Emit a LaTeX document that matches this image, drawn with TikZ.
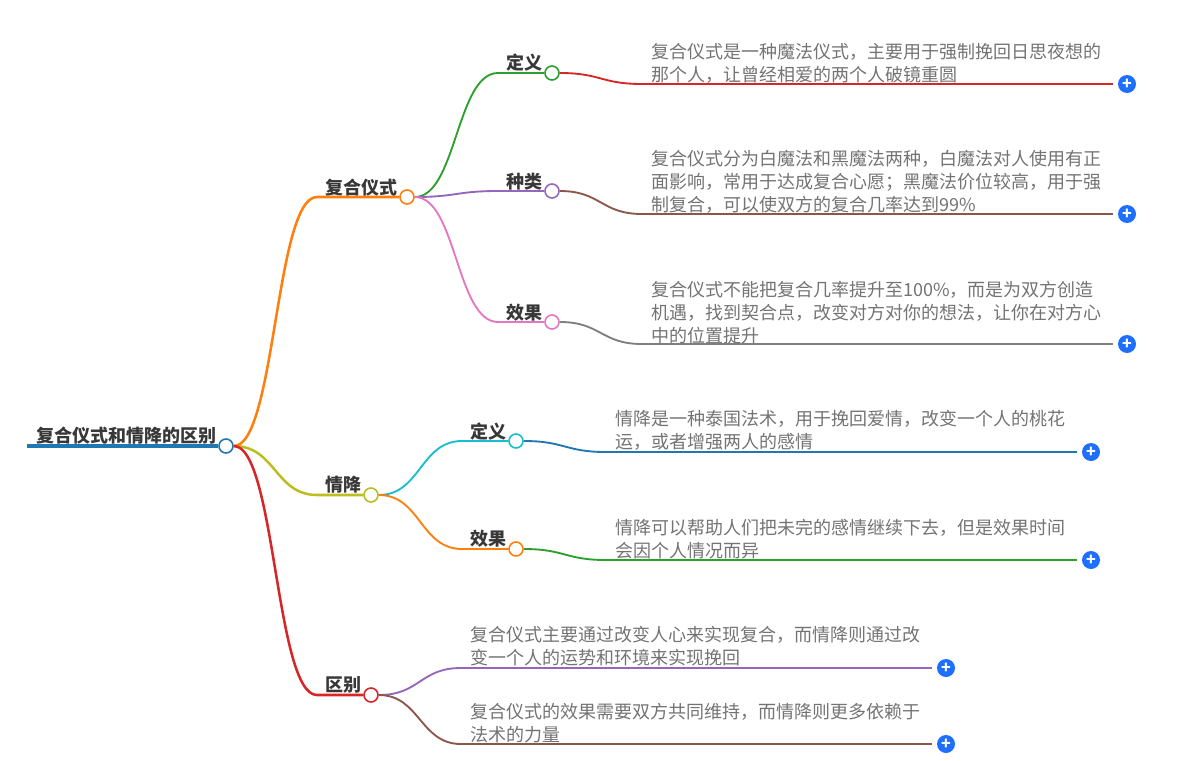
\documentclass[tikz,border=0pt]{standalone}
\usepackage{fontspec}
\setmainfont{Noto Sans CJK SC}
\usetikzlibrary{calc}

\definecolor{cblue}{HTML}{1F77B4}
\definecolor{corange}{HTML}{FF7F0E}
\definecolor{cgreen}{HTML}{2CA02C}
\definecolor{cred}{HTML}{D62728}
\definecolor{cpurple}{HTML}{9467BD}
\definecolor{cbrown}{HTML}{8C564B}
\definecolor{cpink}{HTML}{E377C2}
\definecolor{cgray}{HTML}{7F7F7F}
\definecolor{colive}{HTML}{BCBD22}
\definecolor{ccyan}{HTML}{17BECF}
\definecolor{cplus}{HTML}{1F6FFF}

\tikzset{
    dot/.style={circle, draw=#1, fill=white, line width=1.2pt, minimum size=10.5pt, inner sep=0pt},
    topic/.style={inner sep=0pt, text=black!78, font=\fontsize{13.5pt}{16pt}\selectfont\bfseries},
    body/.style={anchor=south west, align=left, inner sep=0pt, text=black!55,
        font=\fontsize{13.5pt}{17.25pt}\selectfont},
    plus/.style={circle, fill=cplus, text=white, minimum size=13.5pt, inner sep=0pt,
        font=\fontsize{12pt}{12pt}\selectfont\bfseries},
    link/.style={line width=1.4pt, to path={let \p1=(\tikztostart), \p2=(\tikztotarget) in
        .. controls ({(\x1+\x2)/2},\y1) and ({(\x1+\x2)/2},\y2) .. (\tikztotarget)}},
    trunk/.style={link, line width=1.9pt},
    tail/.style={line width=1.4pt, shorten >=3.75pt},
}

\begin{document}
\begin{tikzpicture}[x=0.75pt, y=-0.75pt]
    \useasboundingbox (0,0) rectangle (1201,760);

    % dots
    \node[dot=cblue] (root) at (226,446) {};
    \node[dot=corange] (fh) at (407,197) {};
    \node[dot=colive] (qj) at (371,495) {};
    \node[dot=cred] (qb) at (371,695) {};
    \node[dot=cgreen] (fhdy) at (552,73) {};
    \node[dot=cpurple] (fhzl) at (552,191) {};
    \node[dot=cpink] (fhxg) at (552,322) {};
    \node[dot=ccyan] (qjdy) at (516,441) {};
    \node[dot=corange] (qjxg) at (516,549) {};

    % bends
    \coordinate (fhb) at (317,197);
    \coordinate (qjb) at (317,495);
    \coordinate (qbb) at (317,695);
    \coordinate (fhdyb) at (498,73);
    \coordinate (fhzlb) at (498,191);
    \coordinate (fhxgb) at (498,322);
    \coordinate (qjdyb) at (462,441);
    \coordinate (qjxgb) at (462,549);
    \coordinate (l1) at (642,84);
    \coordinate (l2) at (642,214);
    \coordinate (l3) at (642,344);
    \coordinate (l4) at (606,452);
    \coordinate (l5) at (606,560);
    \coordinate (l6) at (461,668);
    \coordinate (l7) at (461,744);

    % plus buttons
    \node[plus] (p1) at (1127,84) {+};
    \node[plus] (p2) at (1127,214) {+};
    \node[plus] (p3) at (1127,344) {+};
    \node[plus] (p4) at (1091,452) {+};
    \node[plus] (p5) at (1091,560) {+};
    \node[plus] (p6) at (946,668) {+};
    \node[plus] (p7) at (946,744) {+};

    % titles
    \node[topic] (troot) at (126,436) {复合仪式和情降的区别};
    \node[topic] (tfh) at (361,188) {复合仪式};
    \node[topic] (tqj) at (343,485) {情降};
    \node[topic] (tqb) at (343,685) {区别};
    \node[topic] (tfhdy) at (524,63) {定义};
    \node[topic] (tfhzl) at (524,182) {种类};
    \node[topic] (tfhxg) at (524,313) {效果};
    \node[topic] (tqjdy) at (488,432) {定义};
    \node[topic] (tqjxg) at (488,539) {效果};

    % texts
    \node[body] (b1) at (651,84) {复合仪式是一种魔法仪式，主要用于强制挽回日思夜想的\\那个人，让曾经相爱的两个人破镜重圆};
    \node[body] (b2) at (651,214) {复合仪式分为白魔法和黑魔法两种，白魔法对人使用有正\\面影响，常用于达成复合心愿；黑魔法价位较高，用于强\\制复合，可以使双方的复合几率达到99\%};
    \node[body] (b3) at (651,344) {复合仪式不能把复合几率提升至100\%，而是为双方创造\\机遇，找到契合点，改变对方对你的想法，让你在对方心\\中的位置提升};
    \node[body] (b4) at (615,451) {情降是一种泰国法术，用于挽回爱情，改变一个人的桃花\\运，或者增强两人的感情};
    \node[body] (b5) at (615,559) {情降可以帮助人们把未完的感情继续下去，但是效果时间\\会因个人情况而异};
    \node[body] (b6) at (470,666) {复合仪式主要通过改变人心来实现复合，而情降则通过改\\变一个人的运势和环境来实现挽回};
    \node[body] (b7) at (470,743) {复合仪式的效果需要双方共同维持，而情降则更多依赖于\\法术的力量};

    % connectors
    \draw[cblue, line width=3pt] (27,446) -- (root.west);
    \draw[corange, trunk] (root.east) to (fhb) -- (fh.west);
    \draw[colive, trunk] (root.east) to (qjb) -- (qj.west);
    \draw[cred, trunk] (root.east) to (qbb) -- (qb.west);
    \draw[cgreen, link] (fh.east) to (fhdyb) -- (fhdy.west);
    \draw[cpurple, link] (fh.east) to (fhzlb) -- (fhzl.west);
    \draw[cpink, link] (fh.east) to (fhxgb) -- (fhxg.west);
    \draw[ccyan, link] (qj.east) to (qjdyb) -- (qjdy.west);
    \draw[corange, link] (qj.east) to (qjxgb) -- (qjxg.west);

    \draw[cred, link] (fhdy.east) to (l1);
    \draw[cred, tail] (l1) -- (p1.west);
    \draw[cbrown, link] (fhzl.east) to (l2);
    \draw[cbrown, tail] (l2) -- (p2.west);
    \draw[cgray, link] (fhxg.east) to (l3);
    \draw[cgray, tail] (l3) -- (p3.west);
    \draw[cblue, link] (qjdy.east) to (l4);
    \draw[cblue, tail] (l4) -- (p4.west);
    \draw[cgreen, link] (qjxg.east) to (l5);
    \draw[cgreen, tail] (l5) -- (p5.west);
    \draw[cpurple, link] (qb.east) to (l6);
    \draw[cpurple, tail] (l6) -- (p6.west);
    \draw[cbrown, link] (qb.east) to (l7);
    \draw[cbrown, tail] (l7) -- (p7.west);
\end{tikzpicture}
\end{document}
